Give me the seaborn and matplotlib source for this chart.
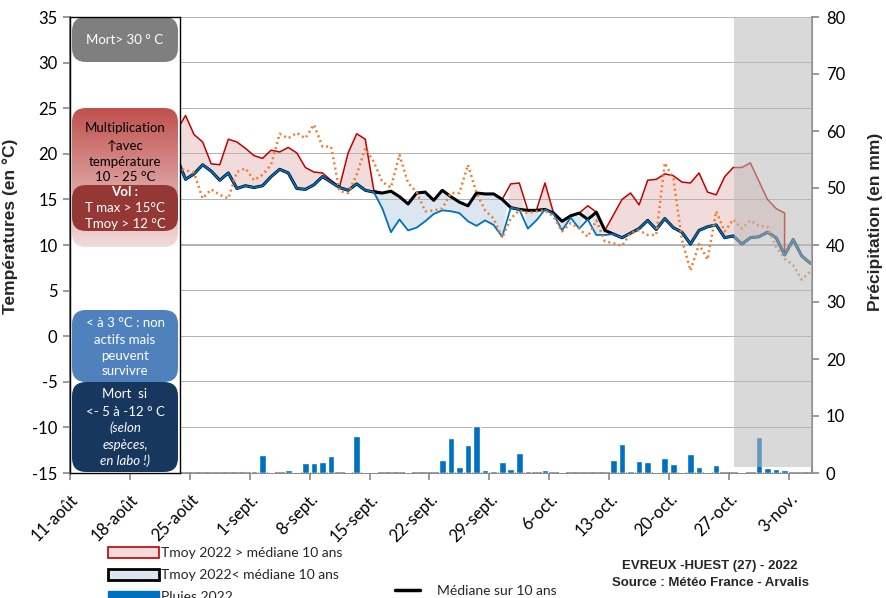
import numpy as np
import pandas as pd
import seaborn as sns
import matplotlib
matplotlib.use("Agg")
import matplotlib.pyplot as plt
import matplotlib.transforms as mtransforms
from matplotlib.patches import FancyBboxPatch, Rectangle, Patch
from matplotlib.lines import Line2D

sns.set_theme(style="white")
plt.rcParams["font.family"] = ["Liberation Sans", "DejaVu Sans"]
plt.rcParams["axes.unicode_minus"] = False
CALIBRI = ["Lato", "DejaVu Sans"]

# Données journalières du 23 août au 6 nov. 2022
dates = pd.date_range("2022-08-23", "2022-11-06", freq="D")

# Tmoy 2022 (°C) - jusqu'au 3 nov.
tmoy_2022 = [22.6, 24.2, 22.1, 21.3, 18.9, 18.8, 21.6, 21.3, 20.6, 19.8,
             19.5, 20.4, 20.2, 20.7, 20.1, 18.5, 18.0, 17.9, 17.1, 16.4,
             20.1, 22.2, 21.6, 16.0, 14.0, 11.4, 12.8, 11.6, 11.9, 12.6,
             13.4, 13.8, 13.7, 13.5, 12.6, 12.1, 12.7, 12.2, 10.9, 16.7,
             16.8, 11.8, 12.7, 16.8, 13.4, 11.6, 13.0, 11.8, 14.3, 11.1,
             11.1, 13.3, 15.0, 15.7, 14.4, 17.1, 17.2, 17.8, 17.6, 16.9,
             16.8, 17.9, 15.8, 15.5, 17.5, 18.5, 18.5, 19.0, 17.0, 15.0,
             14.0, 13.5]

# Médiane sur 10 ans (°C)
mediane_10ans = [19.5, 17.2, 17.8, 18.8, 18.1, 17.1, 17.9, 16.2, 16.5, 16.3,
                 16.5, 17.5, 18.3, 17.9, 16.2, 16.1, 16.6, 17.5, 16.9, 16.3,
                 16.0, 16.7, 16.0, 15.8, 15.7, 15.9, 15.3, 14.5, 15.7, 15.8,
                 14.9, 16.0, 15.3, 14.7, 14.3, 15.7, 15.6, 15.6, 15.0, 14.1,
                 13.9, 13.8, 13.8, 13.9, 13.5, 12.6, 13.2, 13.5, 12.8, 13.6,
                 11.6, 11.2, 10.8, 11.3, 11.8, 12.7, 11.7, 12.9, 11.9, 11.4,
                 10.1, 11.6, 12.0, 12.2, 10.8, 11.0, 10.1, 10.8, 10.9, 11.4,
                 10.8, 8.9, 10.6, 8.8, 8.0, 8.3]

# Série en pointillés orange (°C)
tmoy_pointilles = [18.4, 18.2, 17.9, 15.1, 16.1, 15.5, 15.1, 18.0, 18.4, 17.1,
                   17.7, 18.8, 22.2, 21.7, 22.3, 21.7, 23.2, 20.8, 20.8, 15.9,
                   15.7, 17.7, 20.6, 19.1, 16.9, 16.3, 19.9, 16.8, 15.8, 13.7,
                   13.8, 14.0, 15.7, 15.7, 18.8, 15.7, 13.8, 12.9, 10.8, 12.9,
                   13.8, 13.5, 13.7, 13.8, 13.1, 11.5, 12.4, 11.8, 10.9, 12.7,
                   10.4, 10.2, 9.9, 11.3, 11.6, 11.1, 11.1, 19.0, 17.3, 10.6,
                   7.2, 10.1, 8.4, 13.7, 11.5, 12.8, 11.8, 12.7, 12.1, 12.0,
                   9.8, 8.5, 7.8, 6.2, 7.1, 5.8]

# Pluies 2022 (mm)
pluies_2022 = [0, 0, 0, 0, 0, 0, 0, 0, 0, 0.3,
               3.1, 0.1, 0, 0.5, 0.1, 1.75, 1.75, 2.0, 2.9, 0,
               0.1, 6.5, 0.1, 0.1, 0, 0, 0, 0.1, 0, 0,
               0, 2.3, 6.1, 1.1, 4.9, 8.3, 0.5, 0.3, 2.0, 0.7,
               3.5, 0.35, 0, 0.5, 0, 0.2, 0, 0, 0, 0,
               0, 2.3, 5.1, 0.35, 2.1, 1.9, 0.1, 2.7, 1.5, 0.1,
               3.4, 1.1, 0.1, 1.4, 0, 0, 0.1, 0, 6.4, 0.9,
               0.65, 0.6, 0, 0, 0, 0]

tick_labels = ["11-août", "18-août", "25-août", "1-sept.", "8-sept.", "15-sept.",
               "22-sept.", "29-sept.", "6-oct.", "13-oct.", "20-oct.", "27-oct.", "3-nov."]

origine = pd.Timestamp("2022-08-11")
n_t = len(tmoy_2022)
df = pd.DataFrame({
    "pos": (dates - origine).days + 0.5,
    "med": mediane_10ans,
    "orange": tmoy_pointilles,
    "pluie": pluies_2022,
})
df["tmoy"] = pd.Series(tmoy_2022 + [np.nan] * (len(df) - n_t))

x = df["pos"].to_numpy()
t = df["tmoy"].to_numpy()
m = df["med"].to_numpy()
xt, tt, mt = x[:n_t], t[:n_t], m[:n_t]

fig = plt.figure(figsize=(8.86, 5.98), dpi=100)
ax = fig.add_axes([70 / 886, 125 / 598, 742 / 886, 456 / 598])
ax2 = ax.twinx()

ax.set_xlim(0, 86.7)
ax.set_ylim(-15, 35)
ax2.set_ylim(0, 80)
ax.set_yticks(range(-15, 36, 5))
ax2.set_yticks(range(0, 81, 10))

# quadrillage horizontal (bandes fines)
for yv in range(-15, 36, 5):
    ax.axhspan(yv - 0.075, yv + 0.075, color="#b4b4b4", lw=0, zorder=2.5)

# zones remplies
ax.fill_between(xt, tt, mt, where=tt >= mt, interpolate=True, color="#f2dcdb", lw=0, zorder=2)
ax.fill_between(xt, tt, mt, where=tt <= mt, interpolate=True, color="#dce6f1", lw=0, zorder=2)

# lignes
red_x = np.append(xt, xt[-1])
red_y = np.append(np.maximum(tt, mt), mt[-1])
sns.lineplot(x=red_x, y=red_y, ax=ax, color="#c00000", lw=1.1, estimator=None, sort=False, zorder=3)
sns.lineplot(x=x, y=m, ax=ax, color="black", lw=2.2, estimator=None, sort=False, zorder=4)
bleu = np.concatenate([np.minimum(tt, mt), m[n_t:]])
sns.lineplot(x=x, y=bleu, ax=ax, color="#0070c0", lw=1.3, estimator=None, sort=False, zorder=5)
sns.lineplot(x=x, y=df["orange"], ax=ax, color="#ed7d31", lw=1.8, estimator=None, sort=False,
             zorder=6, dashes=False, linestyle=(0, (0.8, 1.3)))

# pluies
ax2.bar(x, df["pluie"], width=0.78, color="#0070c0", zorder=3)
ax2.add_patch(Rectangle((77.6, 1.0), 20, 79, facecolor="#bababa", alpha=0.55, lw=0, zorder=10))

log = []


def chk(name):
    fig.canvas.draw()
    buf = np.asarray(fig.canvas.buffer_rgba())
    xe, ye = ax.transData.transform((50, 30))
    col = buf[buf.shape[0] - 1 - int(round(ye)), int(xe)][:3]
    log.append(f"{name}:{int(col[0])}")
    return int(col[0])


ax.set_xticks(range(0, 85, 7))
ax.set_xticklabels(tick_labels, rotation=45, ha="right", rotation_mode="anchor", fontsize=10.5,
                   family=CALIBRI)
offset = mtransforms.ScaledTranslation(9 / 100, 0, fig.dpi_scale_trans)
for lab in ax.get_xticklabels():
    lab.set_transform(lab.get_transform() + offset)
chk("xticks")

for a in (ax, ax2):
    a.spines["top"].set_visible(False)
    for s in ("left", "right", "bottom"):
        a.spines[s].set_color("#8c8c8c")
    a.tick_params(colors="black", labelsize=12, length=5, color="#8c8c8c")
    for lab in a.get_yticklabels():
        lab.set_family(CALIBRI)
ax.tick_params(axis="y", left=True, pad=4)
ax.tick_params(axis="x", bottom=True, length=5, pad=8)
ax2.tick_params(axis="y", right=True, pad=5)
chk("style")

ax.set_ylabel("Températures (en °C)", fontsize=12.5, fontweight="bold")
ax.yaxis.set_label_coords(-0.07, 0.54)
ax2.set_ylabel("Précipitation (en mm)", fontsize=12.5, fontweight="bold")
ax2.yaxis.set_label_coords(1.076, 0.55)
ax.set_xlabel("")
chk("labels")

# panneau de gauche
pax = fig.add_axes([70 / 886, 125 / 598, 110 / 886, 456 / 598])
pax.set_xlim(0, 110)
pax.set_ylim(0, 456)
pax.set_xticks([])
pax.set_yticks([])
pax.set_facecolor("white")
for s in pax.spines.values():
    s.set_color("black")
    s.set_linewidth(1)
chk("pax")


def boite(y0, y1, couleur, rs=14):
    p = FancyBboxPatch((2, y0), 106, y1 - y0, boxstyle=f"round,pad=0,rounding_size={rs}",
                       facecolor=couleur, edgecolor="none")
    pax.add_patch(p)
    return p


def texte(y, s, c="white", **kw):
    pax.text(55, y, s, ha="center", va="center", color=c, fontsize=9.5, family=CALIBRI, **kw)


boite(411, 456, "#7f7f7f")
texte(433, "Mort> 30 ° C")
chk("box1")

grad_box = boite(226, 365, "none")
haut = np.array([192, 80, 77]) / 255
bas = np.array([242, 220, 219]) / 255
k = np.linspace(0, 1, 200)[:, None]
grad = (haut * (1 - k) + bas * k)[:, None, :]
im = pax.imshow(grad, extent=[2, 108, 226, 365], aspect="auto", origin="upper", zorder=1)
im.set_clip_path(grad_box)
pax.set_xlim(0, 110)
pax.set_ylim(0, 456)
chk("image")
for yy, s in zip([345, 327, 311, 296], ["Multiplication", "↑avec", "température", "10 - 25 °C"]):
    texte(yy, s, c="black")

boite(242, 288, "#953735")
texte(281, "Vol :", weight="bold")
texte(265, "T max > 15°C")
texte(249, "Tmoy > 12 °C")

boite(91, 163, "#4f81bd")
for yy, s in zip([150, 133, 117, 102], ["< à 3 °C : non", "actifs mais", "peuvent", "survivre"]):
    texte(yy, s)

boite(1, 91, "#17375e")
texte(79, "Mort  si")
texte(61, "<- 5 à -12 ° C")
texte(45, "(selon", style="italic")
texte(28, "espèces,", style="italic")
texte(12, "en labo !)", style="italic")
chk("boxes")

# légendes
h1 = [Patch(facecolor="#f2dcdb", edgecolor="#c00000", lw=1.2),
      Patch(facecolor="#dce6f1", edgecolor="black", lw=2),
      Patch(facecolor="#0070c0", edgecolor="#0070c0")]
fig.legend(h1, ["Tmoy 2022 > médiane 10 ans", "Tmoy 2022< médiane 10 ans", "Pluies 2022"],
           loc="upper left", bbox_to_anchor=(108 / 886, 1 - 547 / 598), frameon=False,
           handlelength=3.7, handleheight=0.8, handletextpad=0.15, labelspacing=0.72,
           borderpad=0, borderaxespad=0, prop={"family": CALIBRI, "size": 10})
fig.legend([Line2D([], [], color="black", lw=2.5)], ["Médiane sur 10 ans"], loc="center left",
           bbox_to_anchor=(395 / 886, 1 - 591 / 598), frameon=False, handlelength=1.8,
           handletextpad=1.2, borderpad=0, borderaxespad=0, prop={"family": CALIBRI, "size": 10})
chk("legend")

fig.text(710 / 886, 1 - 566 / 598, "EVREUX -HUEST (27) - 2022", ha="center", va="center",
         fontsize=9.5, fontweight="bold")
fig.text(710 / 886, 1 - 583 / 598, "Source : Météo France - Arvalis", ha="center", va="center",
         fontsize=9.5, fontweight="bold")
ax.set_xlim(0, 86.7)
ax.set_ylim(-15, 35)
ax2.set_ylim(0, 80)
final = chk("final")

fig.savefig("out.png", dpi=100)
if final > 240:
    raise SystemExit("GRID MISSING " + " | ".join(log))
